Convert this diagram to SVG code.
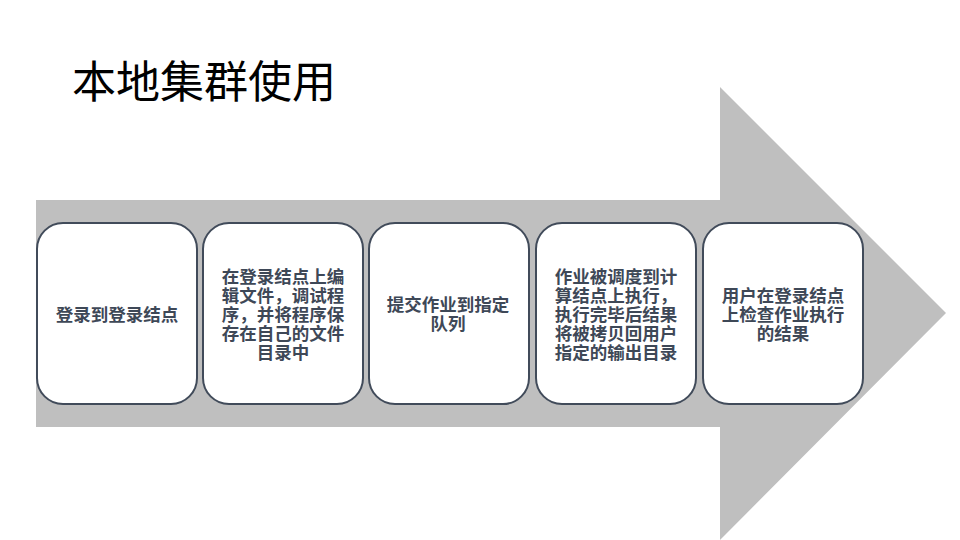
<svg xmlns="http://www.w3.org/2000/svg" width="960" height="540" viewBox="0 0 960 540">
<style>
.box{fill:#ffffff;stroke:#414b5a;stroke-width:2}
.t{font-family:"Noto Sans CJK SC","Noto Sans",sans-serif;font-size:17.5px;font-weight:bold;fill:#3e4857;text-anchor:middle}
.title{font-family:"Noto Sans CJK SC","Noto Sans",sans-serif;font-size:44px;fill:#000000}
</style>
<rect width="960" height="540" fill="#ffffff"/>
<text class="title" x="72" y="98">本地集群使用</text>
<g id="connectors">
<path d="M36 200 H720 V87 L946 313 L720 540 V427 H36 Z" fill="#bfbfbf"/>
</g>
<g id="n1">
<rect class="box" x="37" y="223" width="160" height="181" rx="26"/>
<text class="t" x="117" y="320.6">登录到登录结点</text>
</g>
<g id="n2">
<rect class="box" x="203" y="223" width="160" height="181" rx="26"/>
<text class="t" x="283" y="282.6">在登录结点上编</text>
<text class="t" x="283" y="301.6">辑文件，调试程</text>
<text class="t" x="283" y="320.6">序，并将程序保</text>
<text class="t" x="283" y="339.6">存在自己的文件</text>
<text class="t" x="283" y="358.6">目录中</text>
</g>
<g id="n3">
<rect class="box" x="369" y="223" width="160" height="181" rx="26"/>
<text class="t" x="448" y="311.1">提交作业到指定</text>
<text class="t" x="448" y="330.1">队列</text>
</g>
<g id="n4">
<rect class="box" x="536" y="223" width="160" height="181" rx="26"/>
<text class="t" x="616" y="282.6">作业被调度到计</text>
<text class="t" x="616" y="301.6">算结点上执行，</text>
<text class="t" x="616" y="320.6">执行完毕后结果</text>
<text class="t" x="616" y="339.6">将被拷贝回用户</text>
<text class="t" x="616" y="358.6">指定的输出目录</text>
</g>
<g id="n5">
<rect class="box" x="703" y="223" width="160" height="181" rx="26"/>
<text class="t" x="783" y="301.6">用户在登录结点</text>
<text class="t" x="783" y="320.6">上检查作业执行</text>
<text class="t" x="783" y="339.6">的结果</text>
</g>
</svg>
